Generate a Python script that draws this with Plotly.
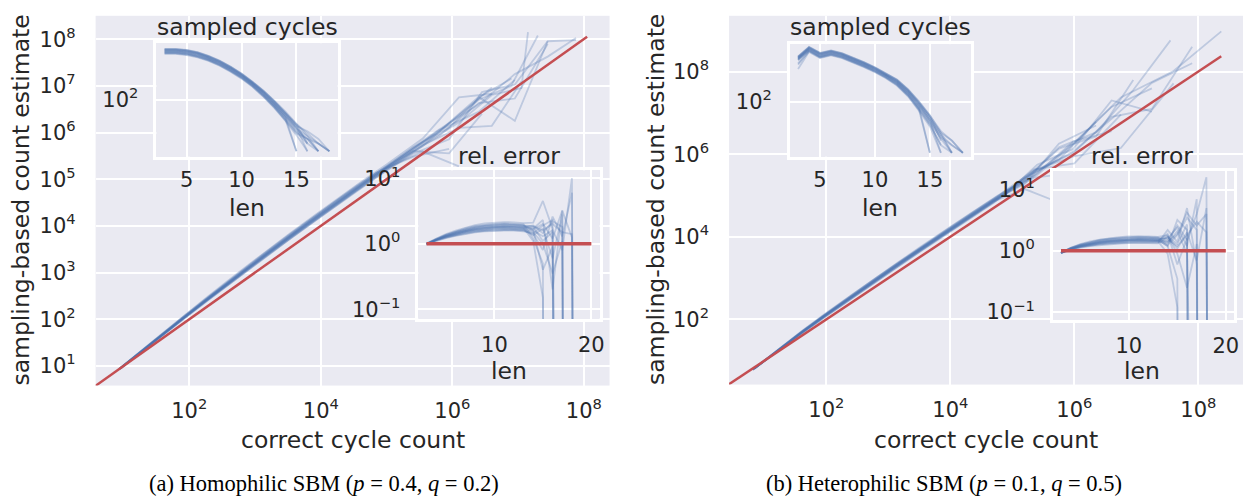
import plotly.graph_objects as go

W, H = 1249, 504
BLUE = 'rgba(76,114,176,0.28)'
RED = '#C44E52'
BG = '#EAEAF2'
TXT = '#262626'
FONT = 'DejaVu Sans'
TICK_SIZE = 21
LABEL_SIZE = 23.5

# ---------------- data ----------------
lengths_rel = list(range(3, 21))        # rel. error inset: cycle length 3..20
lengths_sampled = list(range(3, 19))    # sampled cycles inset: cycle length 3..18

# (a) Homophilic SBM: log10 of correct cycle counts (len 3..20) for three graph samples
correct_log_a = [
    [0.93, 1.40, 1.85, 2.28, 2.70, 3.12, 3.53, 3.93, 4.30, 4.65, 5.00, 5.55, 6.10, 6.60, 7.05, 7.15, 7.20, 7.22],
    [0.96, 1.44, 1.90, 2.34, 2.77, 3.20, 3.63, 4.05, 4.45, 4.83, 5.20, 5.80, 6.40, 6.95, 7.45, 7.88, 8.00, 8.05],
    [0.94, 1.41, 1.86, 2.29, 2.71, 3.12, 3.52, 3.90, 4.24, 4.55, 4.85, 5.40, 5.95, 6.45, 6.90, 7.30, 7.45, 7.50],
]
# relative error (estimate / correct) per run, len 3..20 (0 = no cycles sampled)
rel_err_a = [
    [1.00, 1.12, 1.22, 1.32, 1.41, 1.49, 1.54, 1.57, 1.58, 1.58, 1.55, 1.45, 1.90, 2.30, 0, 0, 0, 0],
    [0.98, 1.15, 1.29, 1.42, 1.54, 1.64, 1.72, 1.76, 1.78, 1.77, 1.73, 1.80, 1.10, 1.50, 0, 0, 0, 0],
    [1.00, 1.18, 1.36, 1.52, 1.68, 1.81, 1.91, 1.97, 2.00, 1.98, 1.93, 1.60, 0.40, 0.90, 0, 0, 0, 0],
    [1.01, 1.20, 1.40, 1.59, 1.77, 1.92, 2.04, 2.10, 2.14, 2.12, 2.06, 2.10, 4.50, 1.70, 0, 0, 0, 0],
    [0.97, 1.13, 1.25, 1.36, 1.46, 1.55, 1.61, 1.64, 1.66, 1.65, 1.62, 1.35, 1.70, 0.60, 2.80, 0, 0, 0],
    [1.00, 1.16, 1.31, 1.46, 1.59, 1.71, 1.79, 1.84, 1.86, 1.85, 1.81, 1.90, 1.45, 2.20, 1.80, 0, 0, 0],
    [0.99, 1.14, 1.26, 1.38, 1.49, 1.58, 1.64, 1.68, 1.70, 1.69, 1.66, 1.50, 1.00, 0.35, 1.10, 0, 0, 0],
    [1.00, 1.17, 1.33, 1.48, 1.62, 1.74, 1.83, 1.88, 1.91, 1.89, 1.85, 1.70, 2.30, 0.20, 3.20, 0, 0, 0],
    [0.98, 1.14, 1.28, 1.40, 1.51, 1.61, 1.68, 1.72, 1.74, 1.73, 1.69, 1.58, 1.30, 1.60, 0.80, 10.0, 0, 0],
    [1.00, 1.15, 1.30, 1.44, 1.57, 1.67, 1.75, 1.80, 1.82, 1.81, 1.77, 1.65, 2.00, 1.20, 3.20, 1.25, 0, 0],
    [0.99, 1.12, 1.24, 1.34, 1.44, 1.52, 1.57, 1.61, 1.62, 1.61, 1.58, 1.40, 0.80, 2.60, 1.30, 6.00, 0, 0],
    [1.00, 1.17, 1.34, 1.50, 1.65, 1.77, 1.87, 1.92, 1.95, 1.94, 1.89, 1.85, 1.60, 2.00, 1.50, 1.40, 0, 0],
    [1.00, 1.19, 1.37, 1.55, 1.71, 1.85, 1.95, 2.01, 2.04, 2.03, 1.97, 1.20, 0.50, 0, 0, 0, 0, 0],
    [0.99, 1.15, 1.29, 1.43, 1.56, 1.67, 1.75, 1.79, 1.82, 1.80, 1.76, 1.10, 0.15, 0, 0, 0, 0, 0],
]
run_graph_a = [0, 1, 2, 0, 1, 2, 0, 1, 0, 1, 2, 1, 2, 0]
# log10 of number of sampled cycles per run, len 3..18 (None = none sampled)
sampled_log_a = [
    [3.84, 3.84, 3.80, 3.71, 3.57, 3.38, 3.15, 2.88, 2.56, 2.18, 1.75, 1.27, 0.74, 0.30, None, None],
    [3.92, 3.92, 3.88, 3.79, 3.65, 3.46, 3.23, 2.96, 2.64, 2.28, 1.86, 1.41, 0.92, 0.00, None, None],
    [3.79, 3.79, 3.75, 3.66, 3.52, 3.33, 3.10, 2.83, 2.51, 2.12, 1.68, 1.18, 0.63, 0.00, None, None],
    [3.97, 3.97, 3.93, 3.84, 3.70, 3.51, 3.28, 3.01, 2.69, 2.34, 1.93, 1.50, 1.03, 0.30, None, None],
    [3.89, 3.89, 3.85, 3.76, 3.62, 3.43, 3.20, 2.93, 2.61, 2.24, 1.82, 1.36, 0.85, 0.48, 0.00, None],
    [3.94, 3.94, 3.90, 3.81, 3.67, 3.48, 3.25, 2.98, 2.66, 2.30, 1.89, 1.45, 0.96, 0.30, 0.00, None],
    [3.82, 3.82, 3.78, 3.69, 3.55, 3.36, 3.13, 2.86, 2.54, 2.16, 1.72, 1.23, 0.70, 0.48, 0.00, None],
    [3.99, 3.99, 3.95, 3.86, 3.72, 3.53, 3.30, 3.03, 2.71, 2.36, 1.96, 1.54, 1.07, 0.60, 0.00, None],
    [3.91, 3.91, 3.87, 3.78, 3.64, 3.45, 3.22, 2.95, 2.63, 2.26, 1.85, 1.40, 0.89, 0.60, 0.30, 0.00],
    [3.98, 3.98, 3.94, 3.85, 3.71, 3.52, 3.29, 3.02, 2.70, 2.35, 1.95, 1.52, 1.05, 0.70, 0.30, 0.00],
    [3.86, 3.86, 3.82, 3.73, 3.59, 3.40, 3.17, 2.90, 2.58, 2.20, 1.78, 1.31, 0.78, 0.48, 0.30, 0.00],
    [3.95, 3.95, 3.91, 3.82, 3.68, 3.49, 3.26, 2.99, 2.67, 2.31, 1.90, 1.47, 0.98, 0.78, 0.48, 0.00],
    [3.81, 3.81, 3.77, 3.68, 3.54, 3.35, 3.12, 2.85, 2.53, 2.14, 1.71, 1.22, 0.00, None, None, None],
    [3.87, 3.87, 3.83, 3.74, 3.60, 3.41, 3.18, 2.91, 2.59, 2.22, 1.79, 1.32, 0.00, None, None, None],
]
ref_line_a = [3.0, 1.12e8]

# (b) Heterophilic SBM
correct_log_b = [
    [0.81, 1.20, 1.58, 1.96, 2.34, 2.72, 3.10, 3.48, 3.87, 4.27, 4.70, 5.20, 5.75, 6.35, 6.95, 7.55, 7.70, 7.75],
    [0.84, 1.24, 1.63, 2.02, 2.41, 2.80, 3.20, 3.60, 4.00, 4.42, 4.88, 5.40, 5.98, 6.60, 7.25, 7.90, 8.05, 8.10],
    [0.82, 1.21, 1.60, 1.98, 2.36, 2.74, 3.13, 3.52, 3.92, 4.33, 4.78, 5.35, 6.00, 6.75, 7.60, 8.37, 8.30, 8.20],
]
rel_err_b = [
    [0.93, 1.04, 1.13, 1.20, 1.25, 1.29, 1.32, 1.34, 1.35, 1.34, 1.33, 1.70, 1.30, 2.70, 0, 0, 0, 0],
    [0.93, 1.06, 1.16, 1.24, 1.30, 1.34, 1.38, 1.40, 1.41, 1.41, 1.39, 1.35, 2.10, 0.90, 0, 0, 0, 0],
    [0.93, 1.07, 1.19, 1.28, 1.35, 1.40, 1.44, 1.47, 1.48, 1.47, 1.45, 1.90, 0.60, 1.60, 0, 0, 0, 0],
    [0.93, 1.09, 1.21, 1.32, 1.40, 1.46, 1.50, 1.53, 1.55, 1.54, 1.52, 1.20, 3.20, 2.20, 0, 0, 0, 0],
    [0.93, 1.10, 1.24, 1.36, 1.45, 1.52, 1.57, 1.60, 1.62, 1.61, 1.58, 1.60, 2.40, 1.20, 7.00, 0, 0, 0],
    [0.93, 1.12, 1.27, 1.40, 1.51, 1.58, 1.64, 1.68, 1.70, 1.69, 1.66, 1.25, 1.80, 3.50, 2.20, 0, 0, 0],
    [0.93, 1.12, 1.29, 1.43, 1.53, 1.61, 1.67, 1.72, 1.74, 1.73, 1.69, 1.80, 0.90, 0.25, 1.30, 0, 0, 0],
    [0.93, 1.05, 1.15, 1.22, 1.28, 1.32, 1.35, 1.37, 1.38, 1.37, 1.36, 2.20, 1.40, 5.00, 0.60, 0, 0, 0],
    [0.93, 1.06, 1.17, 1.26, 1.32, 1.37, 1.41, 1.43, 1.45, 1.44, 1.42, 1.45, 2.60, 1.50, 4.00, 16.0, 0, 0],
    [0.93, 1.08, 1.20, 1.30, 1.37, 1.43, 1.47, 1.50, 1.51, 1.50, 1.48, 1.70, 1.10, 2.00, 0.70, 5.00, 0, 0],
    [0.93, 1.09, 1.23, 1.34, 1.42, 1.49, 1.53, 1.57, 1.58, 1.57, 1.55, 1.40, 1.90, 4.20, 2.60, 4.00, 0, 0],
    [0.93, 1.11, 1.26, 1.38, 1.48, 1.55, 1.60, 1.64, 1.66, 1.65, 1.62, 1.55, 1.20, 1.80, 3.00, 2.00, 0, 0],
    [0.95, 1.10, 1.22, 1.32, 1.40, 1.46, 1.50, 1.53, 1.55, 1.54, 1.51, 1.20, 0.35, 0, 0, 0, 0, 0],
    [0.96, 1.08, 1.19, 1.28, 1.35, 1.40, 1.44, 1.47, 1.48, 1.47, 1.44, 0.90, 0.12, 0, 0, 0, 0, 0],
]
run_graph_b = [0, 1, 2, 0, 0, 1, 2, 1, 0, 1, 2, 1, 2, 0]
sampled_log_b = [
    [3.62, 4.00, 3.76, 3.86, 3.75, 3.59, 3.40, 3.20, 2.97, 2.69, 2.28, 1.74, 1.14, 0.30, None, None],
    [3.70, 4.08, 3.84, 3.94, 3.83, 3.67, 3.48, 3.28, 3.05, 2.79, 2.39, 1.88, 1.29, 0.00, None, None],
    [3.28, 3.95, 3.71, 3.81, 3.70, 3.54, 3.35, 3.15, 2.92, 2.63, 2.21, 1.65, 1.03, 0.00, None, None],
    [3.75, 4.13, 3.89, 3.99, 3.88, 3.72, 3.53, 3.33, 3.10, 2.85, 2.46, 1.97, 1.43, 0.48, None, None],
    [3.67, 4.05, 3.81, 3.91, 3.80, 3.64, 3.45, 3.25, 3.02, 2.75, 2.35, 1.83, 1.25, 0.55, 0.00, None],
    [3.72, 4.10, 3.86, 3.96, 3.85, 3.69, 3.50, 3.30, 3.07, 2.81, 2.42, 1.92, 1.36, 0.70, 0.00, None],
    [3.50, 3.98, 3.74, 3.84, 3.73, 3.57, 3.38, 3.18, 2.95, 2.67, 2.25, 1.70, 1.10, 0.30, 0.00, None],
    [3.77, 4.15, 3.91, 4.01, 3.90, 3.74, 3.55, 3.35, 3.12, 2.87, 2.49, 2.01, 1.47, 0.78, 0.00, None],
    [3.69, 4.07, 3.83, 3.93, 3.82, 3.66, 3.47, 3.27, 3.04, 2.77, 2.38, 1.87, 1.29, 0.70, 0.30, 0.00],
    [3.76, 4.14, 3.90, 4.00, 3.89, 3.73, 3.54, 3.34, 3.11, 2.86, 2.48, 1.99, 1.45, 0.85, 0.48, 0.00],
    [3.64, 4.02, 3.78, 3.88, 3.77, 3.61, 3.42, 3.22, 2.99, 2.71, 2.31, 1.78, 1.18, 0.60, 0.30, 0.00],
    [3.73, 4.11, 3.87, 3.97, 3.86, 3.70, 3.51, 3.31, 3.08, 2.82, 2.43, 1.94, 1.38, 0.78, 0.48, 0.00],
    [3.45, 3.97, 3.73, 3.83, 3.72, 3.56, 3.37, 3.17, 2.94, 2.65, 2.24, 1.69, 0.00, None, None, None],
    [3.65, 4.03, 3.79, 3.89, 3.78, 3.62, 3.43, 3.23, 3.00, 2.73, 2.32, 1.79, 0.00, None, None, None],
]
ref_line_b = [2.0, 2.34e8]

# tick labels (exponents / values)
main_a_yticks = [1, 2, 3, 4, 5, 6, 7, 8]
main_b_yticks = [2, 4, 6, 8]
main_xticks = [2, 4, 6, 8]
sampled_xticks = [5, 10, 15]
sampled_yticks = [2]
rel_xticks = [10, 20]
rel_yticks = [-1, 0, 1]

ZERO_FLOOR = 1e-30  # a run that sampled nothing drops off the log axis (like matplotlib's clip)


def sup(e):
    return '10<sup>' + str(e).replace('-', '\u2212') + '</sup>'


def fx(p):
    return p / W


def fy(p):
    return 1 - p / H


fig = go.Figure()


def add_panel(ax_main, ax_samp, ax_rel, correct_log, rel_err, run_graph, sampled_log, ref_line):
    xa, ya = ax_main
    for run, rel in zip(run_graph, rel_err):
        corr = correct_log[run]
        xs = [10 ** c for c, r in zip(corr, rel) if r > 0]
        ys = [10 ** c * r for c, r in zip(corr, rel) if r > 0]
        fig.add_trace(go.Scatter(x=xs, y=ys, mode='lines', line=dict(color=BLUE, width=1.8),
                                 xaxis=xa, yaxis=ya, hoverinfo='skip', showlegend=False))
    fig.add_trace(go.Scatter(x=ref_line, y=ref_line, mode='lines', line=dict(color=RED, width=2.5),
                             xaxis=xa, yaxis=ya, hoverinfo='skip', showlegend=False))
    xs_, ys_ = ax_samp
    for run in sampled_log:
        ys = [10 ** v if v is not None else None for v in run]
        fig.add_trace(go.Scatter(x=lengths_sampled, y=ys, mode='lines', line=dict(color=BLUE, width=1.8),
                                 xaxis=xs_, yaxis=ys_, hoverinfo='skip', showlegend=False))
    xr, yr = ax_rel
    for rel in rel_err:
        ys = [r if r > 0 else ZERO_FLOOR for r in rel]
        fig.add_trace(go.Scatter(x=lengths_rel, y=ys, mode='lines', line=dict(color=BLUE, width=1.8),
                                 xaxis=xr, yaxis=yr, hoverinfo='skip', showlegend=False))
    fig.add_trace(go.Scatter(x=[lengths_rel[0], lengths_rel[-1]], y=[1, 1], mode='lines',
                             line=dict(color=RED, width=3.5),
                             xaxis=xr, yaxis=yr, hoverinfo='skip', showlegend=False))


add_panel(('x', 'y'), ('x2', 'y2'), ('x3', 'y3'), correct_log_a, rel_err_a, run_graph_a, sampled_log_a, ref_line_a)
add_panel(('x4', 'y4'), ('x5', 'y5'), ('x6', 'y6'), correct_log_b, rel_err_b, run_graph_b, sampled_log_b, ref_line_b)


def axis(domain, rng, tickvals, ticktext, anchor, log=True, inset=False, standoff=14):
    d = dict(domain=domain, range=rng, tickvals=tickvals, ticktext=ticktext, anchor=anchor,
             showgrid=True, gridcolor='white', gridwidth=1.5, zeroline=False,
             ticks='', ticklabelstandoff=standoff,
             tickfont=dict(family=FONT, size=TICK_SIZE, color=TXT))
    if log:
        d['type'] = 'log'
    if inset:
        d.update(showline=True, linecolor='white', linewidth=2.5, mirror=True)
    else:
        d.update(showline=False)
    return d


layout_axes = {
    'xaxis': axis([fx(96), fx(612)], [0.576, 8.39], [10 ** e for e in main_xticks], [sup(e) for e in main_xticks], 'y', standoff=10),
    'yaxis': axis([fy(387), fy(9)], [0.58, 8.50], [10 ** e for e in main_a_yticks], [sup(e) for e in main_a_yticks], 'x', standoff=19),
    'xaxis2': axis([fx(157), fx(339)], [2.25, 18.75], sampled_xticks, [str(v) for v in sampled_xticks], 'y2', log=False, inset=True, standoff=2),
    'yaxis2': axis([fy(153), fy(37)], [-0.21, 4.21], [10 ** e for e in sampled_yticks], [sup(e) for e in sampled_yticks], 'x2', inset=True, standoff=11),
    'xaxis3': axis([fx(420), fx(602)], [2.15, 20.85], rel_xticks, [str(v) for v in rel_xticks], 'y3', log=False, inset=True, standoff=5),
    'yaxis3': axis([fy(319), fy(167)], [-1.15, 1.12], [10 ** e for e in rel_yticks], [sup(e) for e in rel_yticks], 'x3', inset=True, standoff=11),
    'xaxis4': axis([fx(732), fx(1248)], [0.43, 8.72], [10 ** e for e in main_xticks], [sup(e) for e in main_xticks], 'y4', standoff=10),
    'yaxis4': axis([fy(386), fy(9)], [0.42, 9.35], [10 ** e for e in main_b_yticks], [sup(e) for e in main_b_yticks], 'x4', standoff=19),
    'xaxis5': axis([fx(793), fx(975)], [2.25, 18.75], sampled_xticks, [str(v) for v in sampled_xticks], 'y5', log=False, inset=True, standoff=2),
    'yaxis5': axis([fy(153), fy(38)], [-0.15, 4.25], [10 ** e for e in sampled_yticks], [sup(e) for e in sampled_yticks], 'x5', inset=True, standoff=11),
    'xaxis6': axis([fx(1057), fx(1239)], [2.15, 20.85], rel_xticks, [str(v) for v in rel_xticks], 'y6', log=False, inset=True, standoff=5),
    'yaxis6': axis([fy(320), fy(168)], [-1.13, 1.30], [10 ** e for e in rel_yticks], [sup(e) for e in rel_yticks], 'x6', inset=True, standoff=11),
}


def label(text, x, y, size=LABEL_SIZE, angle=0, family=FONT, color=TXT):
    return dict(text=text, x=fx(x), y=fy(y), xref='paper', yref='paper', showarrow=False,
                xanchor='center', yanchor='middle', textangle=angle,
                font=dict(family=family, size=size, color=color))


annotations = [
    label('sampling-based count estimate', 21, 197, angle=-90),
    label('correct cycle count', 354, 443),
    label('sampled cycles', 248, 20),
    label('len', 248, 205),
    label('rel. error', 511, 152),
    label('len', 511, 372),
    label('sampling-based count estimate', 658, 197, angle=-90),
    label('correct cycle count', 990, 443),
    label('sampled cycles', 884, 20),
    label('len', 884, 205),
    label('rel. error', 1147, 152),
    label('len', 1147, 372),
    label('(a) Homophilic SBM (<i>p</i> = 0.4, <i>q</i> = 0.2)', 325, 487, size=22.5, family='Liberation Serif', color='black'),
    label('(b) Heterophilic SBM (<i>p</i> = 0.1, <i>q</i> = 0.5)', 948, 487, size=22.5, family='Liberation Serif', color='black'),
]

fig.update_layout(
    width=W, height=H, autosize=False,
    margin=dict(l=0, r=0, t=0, b=0),
    paper_bgcolor='white', plot_bgcolor=BG,
    showlegend=False,
    font=dict(family=FONT, color=TXT),
    annotations=annotations,
    **layout_axes,
)

fig.write_html('out.html')
